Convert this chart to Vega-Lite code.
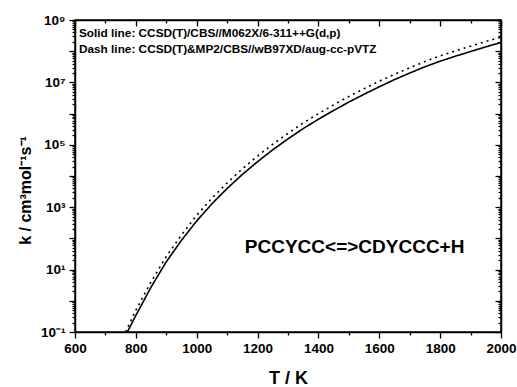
{
  "$schema": "https://vega.github.io/schema/vega-lite/v6.json",
  "width": 426,
  "height": 312,
  "autosize": {"type": "none"},
  "padding": {"left": 75, "top": 20, "right": 16, "bottom": 55},
  "background": "white",
  "config": {
    "view": {"stroke": "black", "strokeWidth": 1.5},
    "axis": {
      "grid": false,
      "domainColor": "black",
      "domainWidth": 1.5,
      "tickColor": "black",
      "tickWidth": 1.3,
      "labelColor": "black",
      "labelFont": "Liberation Sans",
      "labelFontWeight": "bold",
      "labelOverlap": false,
      "labelFlush": false,
      "labelBound": false,
      "titleColor": "black",
      "titleFont": "Liberation Sans",
      "titleFontWeight": "bold"
    },
    "text": {"font": "Liberation Sans", "fontWeight": "bold", "color": "black"}
  },
  "resolve": {"axis": {"x": "independent", "y": "independent"}},
  "layer": [
    {
      "data": {"values": [
        {"T": 772, "k": 0.1, "series": "solid"},
        {"T": 800, "k": 0.339, "series": "solid"},
        {"T": 850, "k": 2.75, "series": "solid"},
        {"T": 900, "k": 17.8, "series": "solid"},
        {"T": 950, "k": 87.1, "series": "solid"},
        {"T": 1000, "k": 363, "series": "solid"},
        {"T": 1050, "k": 1288, "series": "solid"},
        {"T": 1100, "k": 3981, "series": "solid"},
        {"T": 1150, "k": 11220, "series": "solid"},
        {"T": 1200, "k": 28840, "series": "solid"},
        {"T": 1250, "k": 69180, "series": "solid"},
        {"T": 1300, "k": 154900, "series": "solid"},
        {"T": 1350, "k": 331100, "series": "solid"},
        {"T": 1400, "k": 660700, "series": "solid"},
        {"T": 1450, "k": 1259000, "series": "solid"},
        {"T": 1500, "k": 2344000, "series": "solid"},
        {"T": 1550, "k": 4169000, "series": "solid"},
        {"T": 1600, "k": 7244000, "series": "solid"},
        {"T": 1650, "k": 12300000, "series": "solid"},
        {"T": 1700, "k": 19950000, "series": "solid"},
        {"T": 1750, "k": 31620000, "series": "solid"},
        {"T": 1800, "k": 47860000, "series": "solid"},
        {"T": 1850, "k": 69180000, "series": "solid"},
        {"T": 1900, "k": 97720000, "series": "solid"},
        {"T": 1950, "k": 138000000, "series": "solid"},
        {"T": 2000, "k": 190500000, "series": "solid"},
        {"T": 766, "k": 0.1, "series": "dash"},
        {"T": 800, "k": 0.501, "series": "dash"},
        {"T": 850, "k": 4.07, "series": "dash"},
        {"T": 900, "k": 26.3, "series": "dash"},
        {"T": 950, "k": 128.8, "series": "dash"},
        {"T": 1000, "k": 549.5, "series": "dash"},
        {"T": 1050, "k": 1950, "series": "dash"},
        {"T": 1100, "k": 6026, "series": "dash"},
        {"T": 1150, "k": 16980, "series": "dash"},
        {"T": 1200, "k": 43650, "series": "dash"},
        {"T": 1250, "k": 104700, "series": "dash"},
        {"T": 1300, "k": 234400, "series": "dash"},
        {"T": 1350, "k": 501200, "series": "dash"},
        {"T": 1400, "k": 1000000, "series": "dash"},
        {"T": 1450, "k": 1905000, "series": "dash"},
        {"T": 1500, "k": 3548000, "series": "dash"},
        {"T": 1550, "k": 6310000, "series": "dash"},
        {"T": 1600, "k": 10960000, "series": "dash"},
        {"T": 1650, "k": 18200000, "series": "dash"},
        {"T": 1700, "k": 29510000, "series": "dash"},
        {"T": 1750, "k": 46770000, "series": "dash"},
        {"T": 1800, "k": 70790000, "series": "dash"},
        {"T": 1850, "k": 102300000, "series": "dash"},
        {"T": 1900, "k": 144500000, "series": "dash"},
        {"T": 1950, "k": 204200000, "series": "dash"},
        {"T": 2000, "k": 281800000, "series": "dash"}
      ]},
      "mark": {"type": "line", "color": "black", "strokeWidth": 1.6, "clip": true},
      "encoding": {
        "x": {
          "field": "T", "type": "quantitative",
          "scale": {"domain": [600, 2000], "nice": false, "zero": false},
          "axis": {
            "orient": "bottom",
            "title": "T / K",
            "titleFontSize": 18,
            "titleBaseline": "alphabetic",
            "titleY": 51,
            "format": "d",
            "values": [600, 700, 800, 900, 1000, 1100, 1200, 1300, 1400, 1500, 1600, 1700, 1800, 1900, 2000],
            "labelExpr": "datum.value % 200 == 0 ? datum.label : ''",
            "labelFontSize": 13.5,
            "labelPadding": 3,
            "tickSize": {"condition": {"test": "datum.value % 200 == 0", "value": 6}, "value": 3}
          }
        },
        "y": {
          "field": "k", "type": "quantitative",
          "scale": {"type": "log", "domain": [0.1, 1000000000], "nice": false},
          "axis": {
            "orient": "left",
            "title": "k / cm³mol⁻¹s⁻¹",
            "titleFontSize": 16,
            "titleBaseline": "alphabetic",
            "titleX": -45,
            "titleY": 170,
            "values": [0.1, 0.2, 0.3, 0.4, 0.5, 0.6, 0.7, 0.8, 0.9, 1, 2, 3, 4, 5, 6, 7, 8, 9, 10, 20, 30, 40, 50, 60, 70, 80, 90, 100, 200, 300, 400, 500, 600, 700, 800, 900, 1000, 2000, 3000, 4000, 5000, 6000, 7000, 8000, 9000, 10000, 20000, 30000, 40000, 50000, 60000, 70000, 80000, 90000, 100000, 200000, 300000, 400000, 500000, 600000, 700000, 800000, 900000, 1000000, 2000000, 3000000, 4000000, 5000000, 6000000, 7000000, 8000000, 9000000, 10000000, 20000000, 30000000, 40000000, 50000000, 60000000, 70000000, 80000000, 90000000, 100000000, 200000000, 300000000, 400000000, 500000000, 600000000, 700000000, 800000000, 900000000, 1000000000],
            "labelExpr": "datum.value == 0.1 ? '10⁻¹' : datum.value == 10 ? '10¹' : datum.value == 1000 ? '10³' : datum.value == 100000 ? '10⁵' : datum.value == 10000000 ? '10⁷' : datum.value == 1000000000 ? '10⁹' : ''",
            "labelFontSize": 13.5,
            "labelPadding": 4,
            "tickSize": {"condition": {"test": "abs(log(datum.value)/LN10 - round(log(datum.value)/LN10)) < 0.001", "value": 6}, "value": 3}
          }
        },
        "strokeDash": {
          "field": "series", "type": "nominal",
          "scale": {"domain": ["solid", "dash"], "range": [[1, 0], [2, 4]]},
          "legend": null
        }
      }
    },
    {
      "data": {"values": [
        {"T": 613, "k": 285000000, "label": "Solid line: CCSD(T)/CBS//M062X/6-311++G(d,p)"},
        {"T": 613, "k": 87500000, "label": "Dash line: CCSD(T)&MP2/CBS//wB97XD/aug-cc-pVTZ"}
      ]},
      "mark": {"type": "text", "align": "left", "baseline": "alphabetic", "fontSize": 11.8},
      "encoding": {
        "x": {
          "field": "T", "type": "quantitative",
          "scale": {"domain": [600, 2000], "nice": false, "zero": false},
          "axis": {
            "orient": "top",
            "title": null,
            "labels": false,
            "values": [600, 700, 800, 900, 1000, 1100, 1200, 1300, 1400, 1500, 1600, 1700, 1800, 1900, 2000],
            "tickSize": {"condition": {"test": "datum.value % 200 == 0", "value": -6}, "value": -3}
          }
        },
        "y": {
          "field": "k", "type": "quantitative",
          "scale": {"type": "log", "domain": [0.1, 1000000000], "nice": false},
          "axis": {
            "orient": "right",
            "title": null,
            "labels": false,
            "values": [0.1, 0.2, 0.3, 0.4, 0.5, 0.6, 0.7, 0.8, 0.9, 1, 2, 3, 4, 5, 6, 7, 8, 9, 10, 20, 30, 40, 50, 60, 70, 80, 90, 100, 200, 300, 400, 500, 600, 700, 800, 900, 1000, 2000, 3000, 4000, 5000, 6000, 7000, 8000, 9000, 10000, 20000, 30000, 40000, 50000, 60000, 70000, 80000, 90000, 100000, 200000, 300000, 400000, 500000, 600000, 700000, 800000, 900000, 1000000, 2000000, 3000000, 4000000, 5000000, 6000000, 7000000, 8000000, 9000000, 10000000, 20000000, 30000000, 40000000, 50000000, 60000000, 70000000, 80000000, 90000000, 100000000, 200000000, 300000000, 400000000, 500000000, 600000000, 700000000, 800000000, 900000000, 1000000000],
            "tickSize": {"condition": {"test": "abs(log(datum.value)/LN10 - round(log(datum.value)/LN10)) < 0.001", "value": -6}, "value": -3}
          }
        },
        "text": {"field": "label"}
      }
    },
    {
      "data": {"values": [
        {"T": 1519, "k": 33.3, "label": "PCCYCC<=>CDYCCC+H"}
      ]},
      "mark": {"type": "text", "align": "center", "baseline": "alphabetic", "fontSize": 19},
      "encoding": {
        "x": {"field": "T", "type": "quantitative", "scale": {"domain": [600, 2000], "nice": false, "zero": false}, "axis": null},
        "y": {"field": "k", "type": "quantitative", "scale": {"type": "log", "domain": [0.1, 1000000000], "nice": false}, "axis": null},
        "text": {"field": "label"}
      }
    }
  ]
}
